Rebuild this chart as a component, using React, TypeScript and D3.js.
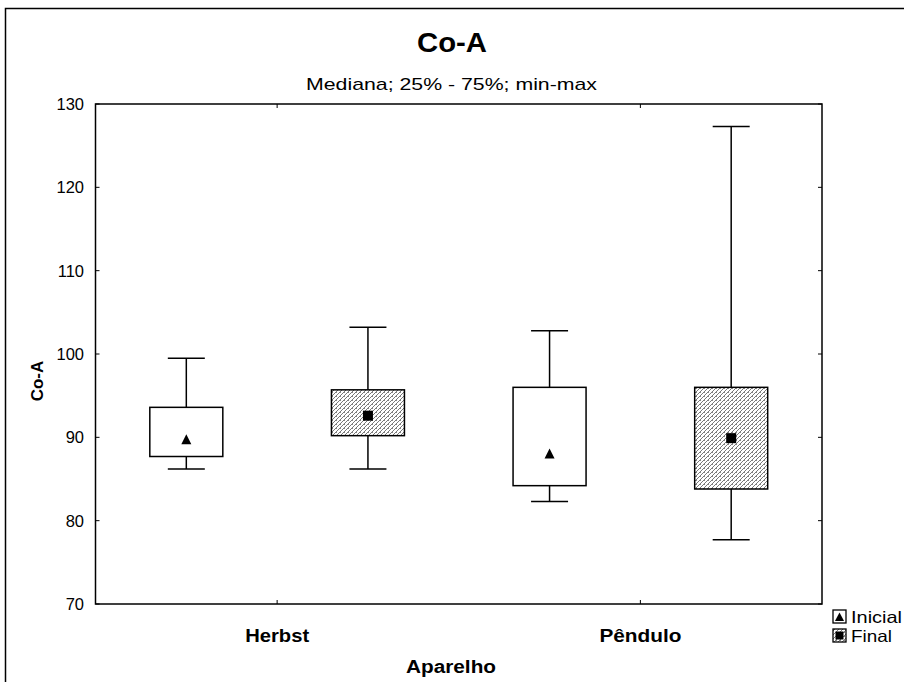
import React from "react";
import * as d3 from "d3";

const categories = ["Herbst", "Pêndulo"];
const seriesNames = ["Inicial", "Final"];
// [min, q1, median, q3, max] per category
const inicialStats = [
  [86.2, 87.7, 89.7, 93.6, 99.5],
  [82.3, 84.2, 88.0, 96.0, 102.8],
];
const finalStats = [
  [86.2, 90.2, 92.6, 95.7, 103.2],
  [77.7, 83.8, 89.9, 96.0, 127.3],
];
const yTicks = [70, 80, 90, 100, 110, 120, 130];

const W = 904;
const H = 682;
const M = { left: 95.5, right: 822, top: 104, bottom: 604 };
const FONT = "'Liberation Sans', Arial, sans-serif";

export default function App() {
  const x = d3.scaleBand<string>().domain(categories).range([M.left, M.right]);
  const sub = d3.scaleBand<string>().domain(seriesNames).range([0, x.bandwidth()]);
  const y = d3.scaleLinear().domain([70, 130]).range([M.bottom, M.top]);
  const boxW = 73;
  const capW = 37;
  const series = [inicialStats, finalStats];

  return (
    <svg width={W} height={H} style={{ position: "absolute", left: 0, top: 0, background: "#fff" }}>
      <defs>
        <pattern id="hatch" width="4" height="4" patternUnits="userSpaceOnUse">
          <rect width="4" height="4" fill="#fff" />
          <path d="M-1,1 l2,-2 M0,4 l4,-4 M3,5 l2,-2" stroke="#6a6a6a" strokeWidth="0.9" />
          <rect x="0" y="0" width="1" height="1" fill="#888" />
        </pattern>
      </defs>
      <rect x={5.5} y={8.5} width={W + 10} height={H + 10} fill="none" stroke="#000" strokeWidth={1.5} />
      <text x={452} y={52} textAnchor="middle" fontFamily={FONT} fontWeight="bold" fontSize={27}
        textLength={70} lengthAdjust="spacingAndGlyphs">Co-A</text>
      <text x={451.5} y={90} textAnchor="middle" fontFamily={FONT} fontSize={17}
        textLength={291} lengthAdjust="spacingAndGlyphs">Mediana; 25% - 75%; min-max</text>

      {/* plot frame */}
      <rect x={M.left} y={M.top} width={M.right - M.left} height={M.bottom - M.top} fill="none" stroke="#000" strokeWidth={1.5} />
      {yTicks.map((t) => (
        <g key={t}>
          <line x1={M.left} x2={M.left + 4} y1={y(t)} y2={y(t)} stroke="#000" />
          <line x1={M.right} x2={M.right - 4} y1={y(t)} y2={y(t)} stroke="#000" />
          <text x={84} y={y(t) + 6} textAnchor="end" fontFamily={FONT} fontSize={16.5}>{t}</text>
        </g>
      ))}
      {categories.map((c, i) => {
        const cx = (x(c) as number) + x.bandwidth() / 2;
        return (
          <g key={c}>
            <line x1={cx} x2={cx} y1={M.bottom} y2={M.bottom - 4} stroke="#000" />
            <line x1={cx} x2={cx} y1={M.top} y2={M.top + 4} stroke="#000" />
            <text x={cx} y={642} textAnchor="middle" fontFamily={FONT} fontWeight="bold" fontSize={18}
              textLength={i === 0 ? 64 : 82} lengthAdjust="spacingAndGlyphs">{c}</text>
          </g>
        );
      })}
      <text x={451} y={673} textAnchor="middle" fontFamily={FONT} fontWeight="bold" fontSize={18}
        textLength={90} lengthAdjust="spacingAndGlyphs">Aparelho</text>
      <text transform={`translate(43,381) rotate(-90)`} textAnchor="middle" fontFamily={FONT} fontWeight="bold" fontSize={17}>Co-A</text>

      {series.map((stats, si) =>
        categories.map((c, ci) => {
          const [mn, q1, md, q3, mx] = stats[ci];
          const cx = (x(c) as number) + (sub(seriesNames[si]) as number) + sub.bandwidth() / 2;
          return (
            <g key={`${si}-${ci}`}>
              <line x1={cx} x2={cx} y1={y(mx)} y2={y(q3)} stroke="#000" strokeWidth={1.5} />
              <line x1={cx} x2={cx} y1={y(q1)} y2={y(mn)} stroke="#000" strokeWidth={1.5} />
              <line x1={cx - capW / 2} x2={cx + capW / 2} y1={y(mx)} y2={y(mx)} stroke="#000" strokeWidth={1.5} />
              <line x1={cx - capW / 2} x2={cx + capW / 2} y1={y(mn)} y2={y(mn)} stroke="#000" strokeWidth={1.5} />
              <rect x={cx - boxW / 2} y={y(q3)} width={boxW} height={y(q1) - y(q3)}
                fill={si === 0 ? "#fff" : "url(#hatch)"} stroke="#000" strokeWidth={1.5} />
              {si === 0 ? (
                <path d={`M${cx},${y(md) - 5.5} L${cx + 5},${y(md) + 4.5} L${cx - 5},${y(md) + 4.5} Z`} fill="#000" />
              ) : (
                <rect x={cx - 5} y={y(md) - 5} width={10} height={10} fill="#000" />
              )}
            </g>
          );
        })
      )}

      {/* legend */}
      <g>
        <rect x={833} y={610} width={13} height={13} fill="#fff" stroke="#000" strokeWidth={1.3} />
        <path d="M839.5,612.5 L844,621 L835,621 Z" fill="#000" />
        <text x={851} y={623} fontFamily={FONT} fontSize={16.5} textLength={51} lengthAdjust="spacingAndGlyphs">Inicial</text>
        <rect x={833} y={629} width={13} height={13} fill="url(#hatch)" stroke="#000" strokeWidth={1.3} />
        <rect x={835.5} y={631.5} width={8} height={8} fill="#000" />
        <text x={851} y={642} fontFamily={FONT} fontSize={16.5} textLength={41} lengthAdjust="spacingAndGlyphs">Final</text>
      </g>
    </svg>
  );
}
